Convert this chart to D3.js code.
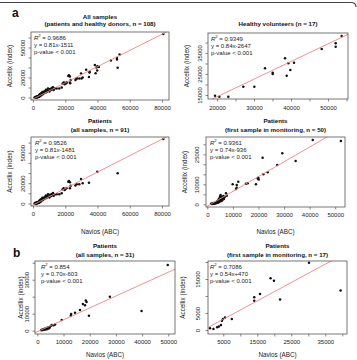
<!DOCTYPE html>
<html>
<head>
<meta charset="utf-8">
<script src="https://cdnjs.cloudflare.com/ajax/libs/d3/7.8.5/d3.min.js"></script>
<style>
  body { margin: 0; background: #fff; }
  svg { display: block; font-family: "Liberation Sans", Arial, sans-serif; }
</style>
</head>
<body>
<svg id="fig" width="357" height="360"></svg>
<script>
// ---- data (Navios ABC on x, Accellix index on y) ----
const healthyVol = [[19460,14670],[20630,14190],[23060,14190],[27120,18950],[30090,18950],
  [32970,27700],[35050,25000],[35050,25630],[38380,32460],[39280,30080],[38830,24190],
  [39820,26900],[40810,30400],[48290,36900],[52070,38000],[52070,39600],[53700,43100]];

const patientsAll = [[80800,63500],[52500,29700],[39900,31300],[34700,20500],[30800,19900],
  [29800,24100],[28700,18900],[27100,18900],[26300,17600],[23400,17500],[22900,15000],
  [22300,22200],[22900,20900],[21900,21500],[20900,15300],[20200,14200],[19600,13300],
  [19000,15100],[18400,14000],[17800,10000],[16300,9100],[14700,9100],[13500,8900],
  [12800,7600],[12400,10300],[12000,8200],[11600,9400],[11200,7400],[10600,8600],
  [10200,5900],[9800,6800],[9300,9100],[9000,7200],[8500,6200],[8300,5300],[8000,7800],
  [7600,6300],[7400,5400],[7150,4750],[6930,5900],[6720,4300],[6480,5150],[6320,3900],
  [6110,4630],[5990,3330],[5820,5560],[5680,4120],[5530,3580],[5390,2900],[5260,4420],
  [5120,3180],[4980,2520],[4870,3790],[4790,2130],[4680,3020],[4590,1790],[4470,2610],
  [4380,3380],[4290,1520],[4180,2240],[4090,1210],[3970,2790],[3890,1680],[3780,920],
  [3690,1980],[3580,1320],[3490,680],[3410,1590],[3290,1030],[3180,510],[3090,1290],
  [2990,820],[2880,390],[2790,1080],[2690,620],[2610,290],[2480,880],[2390,520],
  [2310,210],[2190,690],[2080,380],[1990,160],[1890,590],[1790,310],[1690,110],
  [1610,440],[1490,190],[1390,90],[1290,340],[1190,140],[1090,60]];

const firstMonitoring = [[52200,31650],[41200,32150],[34500,21650],[29300,25500],[27300,19650],
  [21600,23300],[23600,16000],[21900,15000],[19900,13300],[19700,12900],[20100,12400],
  [19000,10000],[15800,10500],[15100,10300],[12100,11300],[11500,9650],[11500,8300],
  [11200,7650],[9900,10000],[7300,5500],[7600,4300],[5200,4650],[6800,3600],[6500,2700],
  [6300,4100],[6100,3200],[6000,2300],[5900,3800],[5700,2900],[5600,1700],[5500,3400],
  [5300,2500],[5100,1500],[5000,4000],[4900,2000],[4700,3000],[4600,1200],[4400,2400],
  [4200,800],[3900,1600],[3700,600],[3500,1100],[3200,400],[3000,800],[2700,300],
  [2500,600],[2200,250],[2000,500],[1800,200],[1500,300]];

const bAllSamples = [[49800,38600],[39800,11600],[27700,20000],[19700,8800],[18500,17700],
  [18800,16900],[17400,15700],[18200,15000],[16300,12200],[14400,10600],[12900,9800],
  [12800,8800],[9300,6300],[6800,3600],[6200,3200],[5600,3400],[5200,2900],[4800,2200],
  [4500,1500],[4300,2000],[4000,1200],[3800,1700],[3600,900],[3300,1300],[3000,700],
  [2800,1100],[2500,500],[2300,900],[2000,400],[1700,600],[1500,300]];

const bFirstSample = [[30200,19800],[39500,11600],[18900,15200],[19900,14500],[21700,9000],
  [15800,10600],[14100,9600],[14100,8600],[7500,3200],[5500,3700],[4900,3200],[4600,2700],
  [4300,1500],[3700,1000],[3200,800],[2100,300],[1100,500]];

// tick values and the labels R printed
const ticks80kX = [0, 20000, 40000, 60000, 80000];
const ticks60kY = [0, 10000, 20000, 30000, 40000, 50000, 60000];
const labels60kY = [0, 20000, 50000];
const ticksHealthyX = [20000, 25000, 30000, 35000, 40000, 45000, 50000, 55000];
const labelsHealthyX = [20000, 30000, 40000, 50000];
const ticksHealthyY = [15000, 20000, 25000, 30000, 35000, 40000];
const labelsHealthyY = [15000, 25000, 35000];
const ticks50kX = [0, 10000, 20000, 30000, 40000, 50000];
const ticksFirstY = [0, 5000, 10000, 15000, 20000, 25000, 30000];
const labelsFirstY = [0, 10000, 25000];
const ticksBAllY = [0, 10000, 20000, 30000, 40000];
const labelsBAllY = [0, 10000, 30000];
const ticksBFirstX = [5000, 10000, 15000, 20000, 25000, 30000, 35000, 40000];
const labelsBFirstX = [5000, 15000, 25000, 35000];
const ticksBFirstY = [0, 5000, 10000, 15000, 20000];
const labelsBFirstY = [0, 5000, 15000];

const panels = [
  { id: 1, title: ["All samples", "(patients  and healthy donors, n = 108)"], titleY: [18.5, 26],
    points: patientsAll.concat(healthyVol), r2: "0.9686", eq: "y = 0.81x-1511", slope: 0.81, icpt: -1511,
    left: 31, right: 169, top: 32, bottom: 100, xDomain: [-1240, 84340], yDomain: [-2500, 65500],
    xTicks: ticks80kX, xLabels: ticks80kX, yTicks: ticks60kY, yLabels: labels60kY,
    xLabOff: 10, yLabOff: 6.2, yTitleX: 12.2, xTitleY: null, annX: 34 },
  { id: 2, title: ["Healthy volunteers (n = 17)"], titleY: [26],
    points: healthyVol, r2: "0.9349", eq: "y = 0.84x-2647", slope: 0.84, icpt: -2647,
    left: 208, right: 348, top: 33, bottom: 99, xDomain: [17570, 55400], yDomain: [13100, 44520],
    xTicks: ticksHealthyX, xLabels: labelsHealthyX, yTicks: ticksHealthyY, yLabels: labelsHealthyY,
    xLabOff: 10.5, yLabOff: 5.8, yTitleX: 189, xTitleY: null, annX: 211 },
  { id: 3, title: ["Patients", "(all samples, n = 91)"], titleY: [123, 132],
    points: patientsAll, r2: "0.9526", eq: "y = 0.81x-1481", slope: 0.81, icpt: -1481,
    left: 31, right: 169, top: 137, bottom: 206, xDomain: [-1240, 84340], yDomain: [-2500, 65500],
    xTicks: ticks80kX, xLabels: ticks80kX, yTicks: ticks60kY, yLabels: labels60kY,
    xLabOff: 10, yLabOff: 6.2, yTitleX: 12.2, xTitleY: 233.5, annX: 35 },
  { id: 4, title: ["Patients", "(first sample in monitoring, n = 50)"], titleY: [123, 132],
    points: firstMonitoring, r2: "0.9361", eq: "y = 0.74x-936", slope: 0.74, icpt: -936,
    left: 206, right: 345, top: 137, bottom: 207, xDomain: [-510, 53800], yDomain: [-1350, 33650],
    xTicks: ticks50kX, xLabels: ticks50kX, yTicks: ticksFirstY, yLabels: labelsFirstY,
    xLabOff: 9.5, yLabOff: 7.1, yTitleX: 187.2, xTitleY: 233.5, annX: 210 },
  { id: 5, title: ["Patients", "(all samples, n = 31)"], titleY: [248, 257],
    points: bAllSamples, r2: "0.854", eq: "y = 0.70x-603", slope: 0.70, icpt: -603,
    left: 35, right: 175, top: 261, bottom: 334, xDomain: [-880, 52560], yDomain: [-1940, 41000],
    xTicks: ticks50kX, xLabels: ticks50kX, yTicks: ticksBAllY, yLabels: labelsBAllY,
    xLabOff: 9.5, yLabOff: 6.1, yTitleX: 22.9, xTitleY: 356.5, annX: 41 },
  { id: 6, title: ["Patients", "(first sample in monitoring, n = 17)"], titleY: [248, 257],
    points: bFirstSample, r2: "0.7086", eq: "y = 0.54x+470", slope: 0.54, icpt: 470,
    left: 208, right: 347, top: 261, bottom: 334, xDomain: [500, 41380], yDomain: [-1180, 20290],
    xTicks: ticksBFirstX, xLabels: labelsBFirstX, yTicks: ticksBFirstY, yLabels: labelsBFirstY,
    xLabOff: 9.5, yLabOff: 8.1, yTitleX: 184.5, xTitleY: 356.5, annX: 210 }
];

const svg = d3.select("#fig");
svg.append("rect").attr("width", 357).attr("height", 360).attr("fill", "#fff");

// figure border (top edge)
svg.append("path")
  .attr("d", "M0,2.5 H351 Q356,2.5 356,7")
  .attr("fill", "none").attr("stroke", "#444").attr("stroke-width", 1.1);

svg.append("text").attr("x", 12).attr("y", 17).text("a")
  .attr("font-size", 12).attr("font-weight", "bold").attr("fill", "#111");
svg.append("text").attr("x", 13).attr("y", 256.5).text("b")
  .attr("font-size", 12).attr("font-weight", "bold").attr("fill", "#111");

function drawPanel(p) {
  const x = d3.scaleLinear().domain(p.xDomain).range([p.left, p.right]);
  const y = d3.scaleLinear().domain(p.yDomain).range([p.bottom, p.top]);
  const g = svg.append("g");
  const cx = (p.left + p.right) / 2;

  p.title.forEach((t, i) => {
    g.append("text").attr("x", cx).attr("y", p.titleY[i]).text(t)
      .attr("text-anchor", "middle").attr("font-size", 6.2)
      .attr("font-weight", "bold").attr("fill", "#111");
  });

  // points
  g.selectAll("circle.pt").data(p.points).join("circle")
    .attr("class", "pt")
    .attr("cx", (d) => x(d[0]))
    .attr("cy", (d) => y(d[1]))
    .attr("r", 1.25)
    .attr("fill", "#111");

  // regression line, clipped to the plot region
  const clipId = "clip" + p.id;
  g.append("clipPath").attr("id", clipId).append("rect")
    .attr("x", p.left).attr("y", p.top)
    .attr("width", p.right - p.left).attr("height", p.bottom - p.top);
  g.append("line")
    .attr("clip-path", "url(#" + clipId + ")")
    .attr("x1", x(p.xDomain[0])).attr("y1", y(p.slope * p.xDomain[0] + p.icpt))
    .attr("x2", x(p.xDomain[1])).attr("y2", y(p.slope * p.xDomain[1] + p.icpt))
    .attr("stroke", "#ee8585").attr("stroke-width", 0.9);

  // box
  g.append("rect")
    .attr("x", p.left).attr("y", p.top)
    .attr("width", p.right - p.left).attr("height", p.bottom - p.top)
    .attr("fill", "none").attr("stroke", "#555").attr("stroke-width", 0.8);

  const xAxis = d3.axisBottom(x).tickValues(p.xTicks).tickSize(2.5).tickSizeOuter(0)
    .tickFormat((d) => (p.xLabels.includes(d) ? String(d) : ""));
  const gx = g.append("g").attr("transform", "translate(0," + p.bottom + ")").call(xAxis);
  gx.select(".domain").remove();
  gx.selectAll(".tick line").attr("stroke", "#555").attr("stroke-width", 0.7);
  gx.selectAll(".tick text")
    .attr("y", p.xLabOff).attr("dy", 0)
    .attr("font-size", 6).attr("fill", "#222")
    .attr("font-family", "Liberation Sans, Arial, sans-serif");

  const yAxis = d3.axisLeft(y).tickValues(p.yTicks).tickSize(2.5).tickSizeOuter(0)
    .tickFormat((d) => (p.yLabels.includes(d) ? String(d) : ""));
  const gy = g.append("g").attr("transform", "translate(" + p.left + ",0)").call(yAxis);
  gy.select(".domain").remove();
  gy.selectAll(".tick line").attr("stroke", "#555").attr("stroke-width", 0.7);
  gy.selectAll(".tick text")
    .attr("transform", "rotate(-90)")
    .attr("x", 0).attr("y", -p.yLabOff).attr("dy", 0)
    .attr("text-anchor", "middle")
    .attr("font-size", 6).attr("fill", "#222")
    .attr("font-family", "Liberation Sans, Arial, sans-serif");

  // axis titles
  g.append("text")
    .attr("transform", "translate(" + p.yTitleX + "," + (p.top + p.bottom) / 2 + ") rotate(-90)")
    .attr("text-anchor", "middle").attr("font-size", 6.3).attr("fill", "#222")
    .text("Accellix (index)");
  if (p.xTitleY !== null) {
    g.append("text").attr("x", cx).attr("y", p.xTitleY)
      .attr("text-anchor", "middle").attr("font-size", 6.3).attr("fill", "#222")
      .text("Navios (ABC)");
  }

  // fit annotation
  const ann = g.append("g").attr("font-size", 6).attr("fill", "#222");
  const r2 = ann.append("text").attr("x", p.annX).attr("y", p.top + 7.5);
  r2.append("tspan").attr("font-style", "italic").text("R");
  r2.append("tspan").attr("font-size", 4.2).attr("dy", -2.2).text("2");
  r2.append("tspan").attr("dy", 2.2).text(" = " + p.r2);
  ann.append("text").attr("x", p.annX).attr("y", p.top + 14.5).text(p.eq);
  ann.append("text").attr("x", p.annX).attr("y", p.top + 21.5).text("p-value < 0.001");
}

panels.forEach(drawPanel);
</script>
</body>
</html>
